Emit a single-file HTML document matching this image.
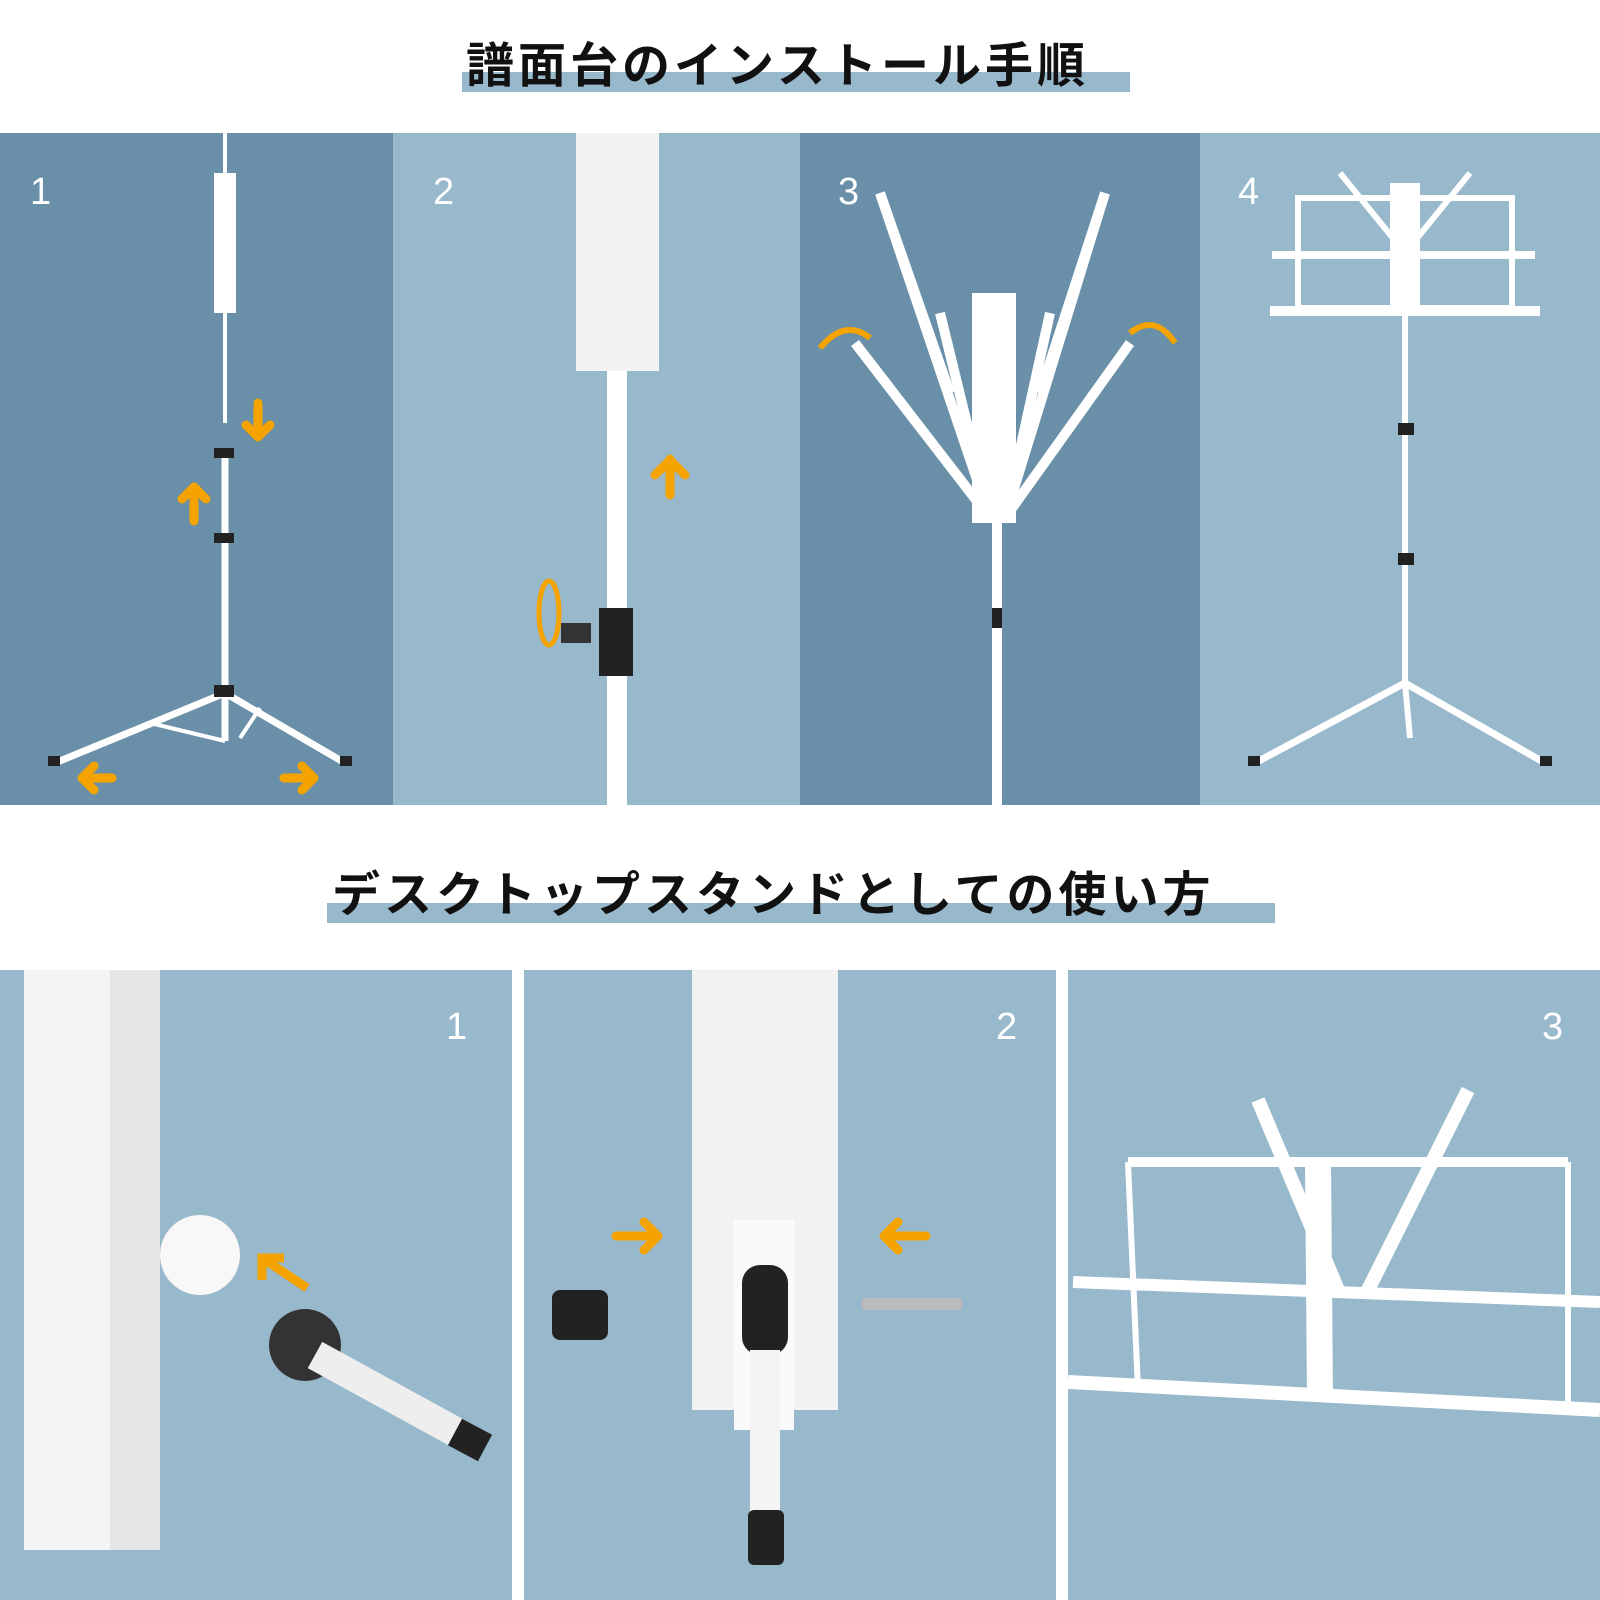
<!DOCTYPE html>
<html><head><meta charset="utf-8"><style>
body{margin:0;width:1600px;height:1600px;background:#fff;position:relative;overflow:hidden;font-family:"Liberation Sans","Noto Sans CJK JP",sans-serif}
.bar{position:absolute;background:#98b8cc}
.t{position:absolute;font-size:48px;font-weight:700;color:#111;white-space:nowrap;letter-spacing:4px;font-family:"Noto Sans CJK JP",sans-serif}
.p{position:absolute;overflow:hidden}
.d{background:#6990a8}.l{background:#98b8cc}
.n{position:absolute;color:#fff;font-size:38px;font-family:"Liberation Sans",sans-serif}
svg{position:absolute;left:0;top:0}
</style></head><body>
<div class="bar" style="left:462px;top:72px;width:668px;height:20px"></div>
<div class="t" style="left:466px;top:26px">譜面台のインストール手順</div>
<div class="p d" style="left:0;top:133px;width:393px;height:672px"><div class="n" style="left:30px;top:38px">1</div>
<svg width="393" height="672"><g stroke="#fff" fill="#fff">
<rect x="214" y="40" width="22" height="140" stroke="none"/><line x1="225" y1="0" x2="225" y2="40" stroke-width="4"/>
<line x1="225" y1="180" x2="225" y2="290" stroke-width="4"/><line x1="225" y1="315" x2="225" y2="560" stroke-width="7"/>
<line x1="225" y1="560" x2="55" y2="630" stroke-width="7"/><line x1="225" y1="560" x2="345" y2="630" stroke-width="7"/><line x1="225" y1="560" x2="225" y2="608" stroke-width="7"/>
<line x1="150" y1="590" x2="225" y2="608" stroke-width="4"/><line x1="260" y1="575" x2="240" y2="605" stroke-width="4"/></g>
<g fill="#222"><rect x="214" y="315" width="20" height="10"/><rect x="214" y="400" width="20" height="10"/><rect x="214" y="552" width="20" height="12"/><rect x="48" y="623" width="12" height="10"/><rect x="340" y="623" width="12" height="10"/></g>
<g stroke="#f5a300" stroke-width="9" fill="none" stroke-linecap="round" stroke-linejoin="round"><path d="M258 270v34M246 292l12 12 12-12"/><path d="M194 388v-34M182 366l12-12 12 12"/><path d="M112 645H82M94 633l-12 12 12 12"/><path d="M284 645h30M302 633l12 12-12 12"/></g></svg></div>
<div class="p l" style="left:393px;top:133px;width:407px;height:672px"><div class="n" style="left:40px;top:38px">2</div>
<svg width="407" height="672"><rect x="183" y="0" width="83" height="238" fill="#f2f2f2"/><rect x="214" y="238" width="20" height="434" fill="#fff"/>
<rect x="206" y="475" width="34" height="68" fill="#222"/><rect x="168" y="490" width="30" height="20" fill="#333"/>
<g stroke="#f5a300" stroke-width="9" fill="none" stroke-linecap="round" stroke-linejoin="round"><path d="M277 362v-36M262 342l15-15 15 15"/><ellipse cx="156" cy="480" rx="10" ry="32" stroke-width="5"/></g></svg></div>
<div class="p d" style="left:800px;top:133px;width:400px;height:672px"><div class="n" style="left:38px;top:38px">3</div>
<svg width="400" height="672"><g stroke="#fff" stroke-width="10"><line x1="190" y1="385" x2="80" y2="60"/><line x1="205" y1="385" x2="305" y2="60"/><line x1="190" y1="385" x2="55" y2="210"/><line x1="205" y1="385" x2="330" y2="210"/><line x1="190" y1="385" x2="140" y2="180"/><line x1="205" y1="385" x2="250" y2="180"/><line x1="80" y1="60" x2="150" y2="260"/><line x1="305" y1="60" x2="240" y2="260"/></g>
<rect x="172" y="160" width="44" height="230" fill="#fff"/><rect x="192" y="380" width="10" height="292" fill="#fff"/><rect x="192" y="475" width="10" height="20" fill="#222"/>
<g stroke="#f5a300" stroke-width="6" fill="none"><path d="M20 215q25-30 50-10"/><path d="M330 200q25-20 45 10"/></g></svg></div>
<div class="p l" style="left:1200px;top:133px;width:400px;height:672px"><div class="n" style="left:38px;top:38px">4</div>
<svg width="400" height="672"><g stroke="#fff" fill="none"><rect x="98" y="65" width="214" height="110" stroke-width="6"/><line x1="72" y1="122" x2="335" y2="122" stroke-width="8"/><line x1="70" y1="178" x2="340" y2="178" stroke-width="10"/><line x1="140" y1="40" x2="205" y2="120" stroke-width="6"/><line x1="270" y1="40" x2="205" y2="120" stroke-width="6"/>
<line x1="205" y1="180" x2="205" y2="550" stroke-width="6"/><line x1="205" y1="550" x2="55" y2="630" stroke-width="7"/><line x1="205" y1="550" x2="345" y2="630" stroke-width="7"/><line x1="205" y1="550" x2="210" y2="605" stroke-width="6"/></g>
<rect x="190" y="50" width="30" height="130" fill="#fff"/><g fill="#222"><rect x="198" y="290" width="16" height="12"/><rect x="198" y="420" width="16" height="12"/><rect x="48" y="623" width="12" height="10"/><rect x="340" y="623" width="12" height="10"/></g></svg></div>
<div class="bar" style="left:327px;top:903px;width:948px;height:20px"></div>
<div class="t" style="left:332px;top:855px">デスクトップスタンドとしての使い方</div>
<div class="p l" style="left:0;top:970px;width:512px;height:630px"><div class="n" style="left:446px;top:36px">1</div>
<svg width="512" height="630"><rect x="24" y="0" width="136" height="580" fill="#f4f4f4"/><rect x="110" y="0" width="50" height="580" fill="#e6e6e6"/>
<circle cx="200" cy="285" r="40" fill="#f8f8f8"/><circle cx="305" cy="375" r="36" fill="#333"/><line x1="315" y1="385" x2="470" y2="470" stroke="#eee" stroke-width="30"/><line x1="455" y1="462" x2="485" y2="478" stroke="#222" stroke-width="30"/>
<path d="M307 318l-42-28M262 310v-22h22" stroke="#f5a300" stroke-width="9" fill="none"/></svg></div>
<div class="p l" style="left:524px;top:970px;width:532px;height:630px"><div class="n" style="left:472px;top:36px">2</div>
<svg width="532" height="630"><rect x="168" y="0" width="146" height="440" fill="#f2f2f2"/><rect x="210" y="250" width="60" height="210" fill="#fafafa"/>
<rect x="218" y="295" width="46" height="90" rx="18" fill="#222"/><rect x="226" y="380" width="30" height="180" fill="#f4f4f4"/><rect x="224" y="540" width="36" height="55" rx="6" fill="#222"/>
<rect x="28" y="320" width="56" height="50" rx="8" fill="#222"/><rect x="338" y="328" width="100" height="12" fill="#bbb"/>
<g stroke="#f5a300" stroke-width="9" fill="none" stroke-linecap="round" stroke-linejoin="round"><path d="M92 266h40M120 252l14 14-14 14"/><path d="M402 266h-40M374 252l-14 14 14 14"/></g></svg></div>
<div class="p l" style="left:1068px;top:970px;width:532px;height:630px"><div class="n" style="left:474px;top:36px">3</div>
<svg width="532" height="630"><g stroke="#fff" fill="none"><line x1="60" y1="192" x2="500" y2="192" stroke-width="10"/><line x1="5" y1="312" x2="532" y2="332" stroke-width="12"/><line x1="0" y1="412" x2="532" y2="440" stroke-width="14"/><line x1="60" y1="192" x2="70" y2="420" stroke-width="6"/><line x1="500" y1="192" x2="500" y2="440" stroke-width="6"/>
<line x1="190" y1="130" x2="270" y2="320" stroke-width="14"/><line x1="400" y1="120" x2="300" y2="320" stroke-width="14"/><line x1="250" y1="190" x2="252" y2="430" stroke-width="26"/></g></svg></div>
</body></html>
